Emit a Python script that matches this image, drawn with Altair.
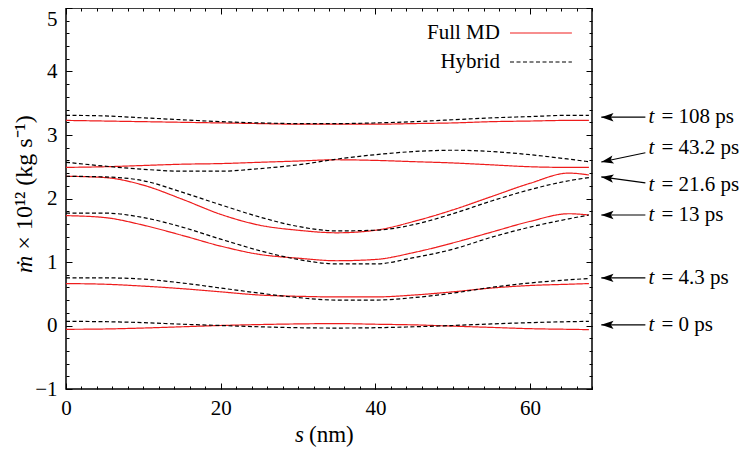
import math
import altair as alt
import pandas as pd

# ---------------- data ----------------
S_NM = [0, 5, 10, 15, 20, 25, 30, 35, 40, 45, 50, 55, 60, 65, 67.6]

MD_T0 = [-0.06, -0.055, -0.04, -0.02, 0.0, 0.015, 0.025, 0.03, 0.02, 0.01, -0.01, -0.03, -0.05, -0.06, -0.065]
HY_T0 = [0.065, 0.06, 0.045, 0.02, 0.0, -0.02, -0.035, -0.04, -0.035, -0.02, 0.0, 0.025, 0.045, 0.06, 0.065]
MD_T4 = [0.66, 0.65, 0.62, 0.58, 0.53, 0.48, 0.46, 0.45, 0.45, 0.48, 0.53, 0.59, 0.63, 0.65, 0.66]
HY_T4 = [0.75, 0.75, 0.73, 0.67, 0.59, 0.51, 0.44, 0.40, 0.40, 0.44, 0.51, 0.60, 0.67, 0.72, 0.74]
MD_T13 = [1.73, 1.70, 1.58, 1.42, 1.25, 1.12, 1.06, 1.02, 1.04, 1.15, 1.30, 1.47, 1.64, 1.76, 1.74]
HY_T13 = [1.77, 1.77, 1.70, 1.55, 1.36, 1.18, 1.04, 0.97, 0.97, 1.07, 1.20, 1.39, 1.55, 1.68, 1.74]
MD_T21 = [2.35, 2.33, 2.21, 1.99, 1.75, 1.58, 1.50, 1.46, 1.50, 1.64, 1.82, 2.03, 2.24, 2.40, 2.37]
HY_T21 = [2.35, 2.34, 2.28, 2.10, 1.90, 1.71, 1.56, 1.49, 1.50, 1.59, 1.76, 1.96, 2.14, 2.28, 2.33]
MD_T43 = [2.49, 2.50, 2.52, 2.54, 2.55, 2.57, 2.59, 2.61, 2.60, 2.58, 2.56, 2.53, 2.50, 2.49, 2.49]
HY_T43 = [2.57, 2.51, 2.46, 2.43, 2.43, 2.47, 2.53, 2.62, 2.69, 2.74, 2.76, 2.74, 2.69, 2.62, 2.58]
MD_T108 = [3.23, 3.22, 3.21, 3.20, 3.19, 3.18, 3.17, 3.17, 3.17, 3.18, 3.19, 3.21, 3.22, 3.23, 3.23]
HY_T108 = [3.31, 3.30, 3.27, 3.24, 3.21, 3.19, 3.18, 3.18, 3.19, 3.21, 3.24, 3.27, 3.29, 3.31, 3.31]

TIME_LABELS = ["0", "4.3", "13", "21.6", "43.2", "108"]
MODELS = ["Full MD", "Hybrid"]

X_MAJOR = [0, 20, 40, 60]
X_MINOR = list(range(0, 69, 2))
Y_MAJOR = [-1, 0, 1, 2, 3, 4, 5]
Y_MINOR = [round(-1 + 0.2 * i, 1) for i in range(31)]

# annotation labels (t = ... ps) and where they point (data units)
ANNOT_TEXT = ["= 108 ps", "= 43.2 ps", "= 21.6 ps", "= 13 ps", "= 4.3 ps", "= 0 ps"]
ANNOT_TEXT_Y = [3.28, 2.80, 2.21, 1.74, 0.75, 0.01]
ARROW_TAIL_Y = [3.28, 2.72, 2.245, 1.74, 0.75, 0.01]
ARROW_TIP_Y = [3.28, 2.575, 2.34, 1.74, 0.75, 0.01]

# ---------------- layout / style ----------------
W, H = 526, 381
X_DOM = [0, 68]
Y_DOM = [-1, 5]
PX_X = W / (X_DOM[1] - X_DOM[0])
PX_Y = H / (Y_DOM[1] - Y_DOM[0])
FONT = "Liberation Serif, Times New Roman, Times, serif"
RED = "#ee1c1c"
DASH = [4, 2.5]
NBSP = "\u00a0"

XS = alt.Scale(domain=X_DOM, nice=False, zero=False)
YS = alt.Scale(domain=Y_DOM, nice=False, zero=False)

ARROW_TIP_X = 69.2
ARROW_TAIL_X = 74.9
TEXT_X = 75.3
LEG_TEXT_X = 56.1
LEG_LINE_X = [57.4, 65.4]
LEG_Y = [4.606, 4.15]

# ---------------- tables ----------------
md_series = [MD_T0, MD_T4, MD_T13, MD_T21, MD_T43, MD_T108]
hy_series = [HY_T0, HY_T4, HY_T13, HY_T21, HY_T43, HY_T108]
rows = []
for t, md, hy in zip(TIME_LABELS, md_series, hy_series):
    for s, a, b in zip(S_NM, md, hy):
        rows.append({"s": s, "mdot": a, "model": "Full MD", "t": t})
        rows.append({"s": s, "mdot": b, "model": "Hybrid", "t": t})
df = pd.DataFrame(rows)

ann = pd.DataFrame({
    "label": [NBSP.join(x.split(" ")) for x in ANNOT_TEXT],
    "ty": ANNOT_TEXT_Y,
    "tail": ARROW_TAIL_Y,
    "tip": ARROW_TIP_Y,
})
ann["tx"] = TEXT_X
ann["x_tail"] = ARROW_TAIL_X
ann["x_tip"] = ARROW_TIP_X
ann["angle"] = [
    (math.degrees(math.atan2(-(tl - tp) * PX_Y, (ARROW_TAIL_X - ARROW_TIP_X) * PX_X)) + 360) % 360
    for tl, tp in zip(ARROW_TAIL_Y, ARROW_TIP_Y)
]

leg = pd.DataFrame({"model": MODELS, "y": LEG_Y})
leg["tx"] = LEG_TEXT_X
leg["x1"] = LEG_LINE_X[0]
leg["x2"] = LEG_LINE_X[1]

frame_df = pd.DataFrame({"x": [0], "y": [0]})

color_scale = alt.Scale(domain=MODELS, range=[RED, "black"])
dash_scale = alt.Scale(domain=MODELS, range=[[1, 0], DASH])

# ---------------- layers ----------------
lines = alt.Chart(df).mark_line(interpolate="monotone", strokeWidth=1.2).encode(
    x=alt.X("s:Q", scale=XS, title=None,
            axis=alt.Axis(orient="bottom", values=X_MAJOR, ticks=False, tickSize=0, domain=False,
                          grid=False, labelPadding=8, labelFont=FONT, labelFontSize=21,
                          labelColor="black", format="d", labelFlush=False)),
    y=alt.Y("mdot:Q", scale=YS, title=None,
            axis=alt.Axis(orient="left", values=Y_MAJOR, ticks=False, tickSize=0, domain=False,
                          grid=False, labelPadding=9, labelFont=FONT, labelFontSize=21,
                          labelColor="black", format="d", labelFlush=False,
                          labelBaseline={"condition": {"test": "datum.value == 5", "value": "top"},
                                         "value": "middle"})),
    color=alt.Color("model:N", scale=color_scale, legend=None),
    strokeDash=alt.StrokeDash("model:N", scale=dash_scale, legend=None),
    detail="t:N",
)


def tick_layer(xvals, yvals, size, xorient, yorient):
    return alt.Chart(frame_df).mark_point(opacity=0).encode(
        x=alt.X("x:Q", scale=XS, title=None,
                axis=alt.Axis(orient=xorient, values=xvals, tickSize=size, offset=-size,
                              labels=False, domain=False, grid=False, tickColor="black",
                              tickWidth=1)),
        y=alt.Y("y:Q", scale=YS, title=None,
                axis=alt.Axis(orient=yorient, values=yvals, tickSize=size, offset=-size,
                              labels=False, domain=False, grid=False, tickColor="black",
                              tickWidth=1)),
    )


ticks = [
    tick_layer(X_MAJOR, Y_MAJOR, 6, "bottom", "left"),
    tick_layer(X_MAJOR, Y_MAJOR, 6, "top", "right"),
    tick_layer(X_MINOR, Y_MINOR, 3, "bottom", "left"),
    tick_layer(X_MINOR, Y_MINOR, 3, "top", "right"),
]

arrows = alt.Chart(ann).mark_rule(color="black", strokeWidth=1.2).encode(
    x=alt.X("x_tail:Q", scale=XS, axis=None), x2="x_tip:Q",
    y=alt.Y("tail:Q", scale=YS, axis=None), y2="tip:Q",
)
heads = alt.Chart(ann).mark_point(
    shape="M0,0L1,-0.34L0.78,0L1,0.34Z", filled=True, size=600, color="black",
    opacity=1, strokeWidth=0,
).encode(
    x=alt.X("x_tip:Q", scale=XS, axis=None),
    y=alt.Y("tip:Q", scale=YS, axis=None),
    angle=alt.Angle("angle:Q", scale=None),
)
t_sym = alt.Chart(ann).mark_text(font=FONT, fontSize=21, fontStyle="italic", align="left",
                                 baseline="middle", color="black").encode(
    x=alt.X("tx:Q", scale=XS, axis=None),
    y=alt.Y("ty:Q", scale=YS, axis=None),
    text=alt.value("t"),
)
t_text = alt.Chart(ann).mark_text(font=FONT, fontSize=21, align="left", baseline="middle",
                                  color="black", dx=13).encode(
    x=alt.X("tx:Q", scale=XS, axis=None),
    y=alt.Y("ty:Q", scale=YS, axis=None),
    text="label:N",
)

leg_text = alt.Chart(leg).mark_text(font=FONT, fontSize=21, align="right", baseline="middle",
                                    color="black").encode(
    x=alt.X("tx:Q", scale=XS, axis=None),
    y=alt.Y("y:Q", scale=YS, axis=None),
    text="model:N",
)
leg_lines = alt.Chart(leg).mark_rule(strokeWidth=1.2).encode(
    x=alt.X("x1:Q", scale=XS, axis=None), x2="x2:Q",
    y=alt.Y("y:Q", scale=YS, axis=None),
    color=alt.Color("model:N", scale=color_scale, legend=None),
    strokeDash=alt.StrokeDash("model:N", scale=dash_scale, legend=None),
)

# axis titles as text (italic symbols)
XT_X, XT_Y = 30.77, -1.72
YT_X, YT_Y = -5.3, 1.10
xt = pd.DataFrame({"x": [XT_X], "y": [XT_Y]})
yt = pd.DataFrame({"x": [YT_X], "y": [YT_Y]})

x_title_s = alt.Chart(xt).mark_text(font=FONT, fontSize=23, fontStyle="italic", align="right",
                                    baseline="middle", color="black").encode(
    x=alt.X("x:Q", scale=XS, axis=None), y=alt.Y("y:Q", scale=YS, axis=None),
    text=alt.value("s"))
x_title_rest = alt.Chart(xt).mark_text(font=FONT, fontSize=23, align="left",
                                       baseline="middle", color="black", dx=5).encode(
    x=alt.X("x:Q", scale=XS, axis=None), y=alt.Y("y:Q", scale=YS, axis=None),
    text=alt.value("(nm)"))
y_title_m = alt.Chart(yt).mark_text(font=FONT, fontSize=24, fontStyle="italic", align="right",
                                    baseline="middle", angle=270, color="black").encode(
    x=alt.X("x:Q", scale=XS, axis=None), y=alt.Y("y:Q", scale=YS, axis=None),
    text=alt.value("ṁ"))
y_title_rest = alt.Chart(yt).mark_text(font=FONT, fontSize=24, align="left",
                                       baseline="middle", angle=270, color="black", dx=6).encode(
    x=alt.X("x:Q", scale=XS, axis=None), y=alt.Y("y:Q", scale=YS, axis=None),
    text=alt.value("×" + NBSP + "10¹²" + NBSP + "(kg" + NBSP + "s⁻¹)"))

chart = alt.layer(
    lines, *ticks, arrows, heads, t_sym, t_text, leg_text, leg_lines,
    x_title_s, x_title_rest, y_title_m, y_title_rest,
).resolve_scale(x="independent", y="independent").properties(
    width=W, height=H,
    autosize=alt.AutoSizeParams(type="none"),
    padding={"left": 58, "top": 0, "right": 149, "bottom": 60},
).configure_view(stroke="black", strokeWidth=1.5)

chart.save("out.html", embed_options={"renderer": "svg", "actions": False})
